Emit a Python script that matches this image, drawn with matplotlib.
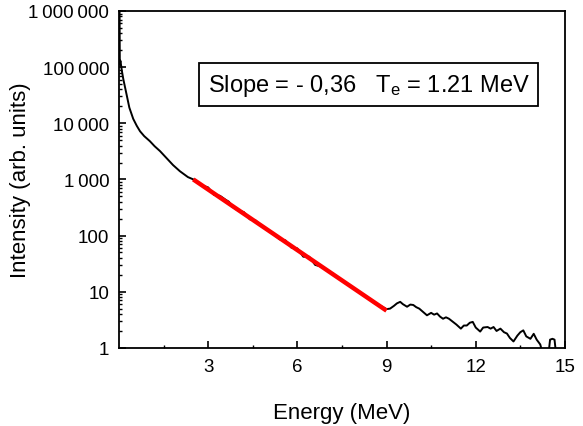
import matplotlib

matplotlib.use("Agg")
import matplotlib.pyplot as plt
from matplotlib.ticker import FixedLocator, LogLocator, NullFormatter

plt.rcParams["font.family"] = ["Liberation Sans", "DejaVu Sans"]
plt.rcParams["mathtext.default"] = "regular"

energy = [
    0.02, 0.03, 0.05, 0.07, 0.1, 0.15, 0.26, 0.35, 0.48, 0.6, 0.71, 0.85,
    1.04, 1.2, 1.38, 1.6, 1.82, 2.05, 2.32, 2.6, 2.8, 3.0, 3.2, 3.4, 3.6,
    3.7, 3.8, 4.0, 4.2, 4.4, 4.6, 4.8, 5.0, 5.2, 5.4, 5.6, 5.8, 6.0, 6.2,
    6.4, 6.6, 6.8, 7.0, 7.2, 7.4, 7.6, 7.8, 8.0, 8.2, 8.4, 8.6, 8.8, 9.0,
    9.12, 9.25, 9.35, 9.46, 9.55, 9.69, 9.8, 9.9, 10.0, 10.1, 10.2, 10.36,
    10.5, 10.6, 10.7, 10.8, 10.9, 11.0, 11.1, 11.2, 11.35, 11.5, 11.6,
    11.7, 11.8, 11.9, 12.0, 12.15, 12.25, 12.4, 12.5, 12.6, 12.7, 12.83,
    12.95, 13.05, 13.15, 13.27, 13.4, 13.5, 13.6, 13.7, 13.84, 13.95,
    14.05, 14.17, 14.25, 14.45, 14.5, 14.58, 14.65, 14.7,
]
intensity = [
    1.2e6, 1.1e5, 1.3e5, 1.1e5, 8.5e4, 6e4, 3.2e4, 1.9e4, 1.2e4, 9e3,
    7.2e3, 5.9e3, 4.8e3, 3.9e3, 3.2e3, 2.4e3, 1.8e3, 1.4e3, 1.1e3, 950,
    780, 720, 530, 510, 430, 400, 330, 280, 262, 195, 185, 147, 126, 106,
    86, 82, 61, 59, 42, 42, 30, 28, 24, 21, 17, 14.8, 12.2, 10.6, 9.0,
    7.6, 6.2, 5.6, 4.9, 5.0, 5.6, 6.2, 6.6, 6.0, 5.4, 5.9, 5.8, 5.3, 5.0,
    4.5, 3.8, 4.2, 3.9, 4.1, 3.6, 3.3, 3.5, 3.3, 3.0, 2.6, 2.2, 2.5, 2.5,
    2.8, 2.9, 2.3, 1.95, 2.3, 2.35, 2.2, 2.35, 2.0, 2.2, 1.9, 1.8, 1.5,
    1.3, 1.65, 1.9, 2.05, 1.6, 1.45, 1.78, 1.4, 1.15, 0.8, 0.8, 1.4,
    1.45, 1.4, 0.8,
]

# exponential fit: log10 slope -0.36
fit_energy = [2.5, 9.0]
fit_intensity = [1000, 4.6]

xticks = [3, 6, 9, 12, 15]
yticks = [1, 10, 100, 1000, 10000, 100000, 1000000]
ytick_labels = ["1", "10", "100", "1\u2009000", "10\u2009000",
                "100\u2009000", "1\u2009000\u2009000"]

fig = plt.figure(figsize=(5.83, 4.27), dpi=100)
ax = fig.add_axes([0.204, 0.183, 0.765, 0.789])

ax.plot(energy, intensity, color="black", lw=1.4)
ax.plot(fit_energy, fit_intensity, color="#ff0000", lw=3.2,
        solid_capstyle="butt")

ax.set_yscale("log")
ax.set_xlim(0, 15)
ax.set_ylim(1, 1e6)

ax.set_xticks(xticks)
ax.xaxis.set_minor_locator(FixedLocator([1.5, 4.5, 7.5, 10.5, 13.5]))
ax.set_yticks(yticks)
ax.set_yticklabels(ytick_labels)
ax.yaxis.set_minor_locator(LogLocator(base=10, subs=range(2, 10), numticks=20))
ax.yaxis.set_minor_formatter(NullFormatter())

ax.tick_params(which="major", direction="in", length=5, width=1.2,
               labelsize=13.5, pad=7)
ax.tick_params(which="minor", direction="in", length=2.5, width=1.0)
for sp in ax.spines.values():
    sp.set_linewidth(1.3)

ax.set_xlabel("Energy (MeV)", fontsize=16, labelpad=20)
ax.set_ylabel("Intensity (arb. units)", fontsize=16)
ax.yaxis.set_label_coords(-0.197, 0.5)

ax.text(8.4, 10 ** 4.69, "Slope = - 0,36   $T_e$ = 1.21 MeV",
        fontsize=17, ha="center", va="center",
        bbox=dict(boxstyle="square,pad=0.35", facecolor="white",
                  edgecolor="black", linewidth=1.3))

fig.savefig("out.png", dpi=100)
